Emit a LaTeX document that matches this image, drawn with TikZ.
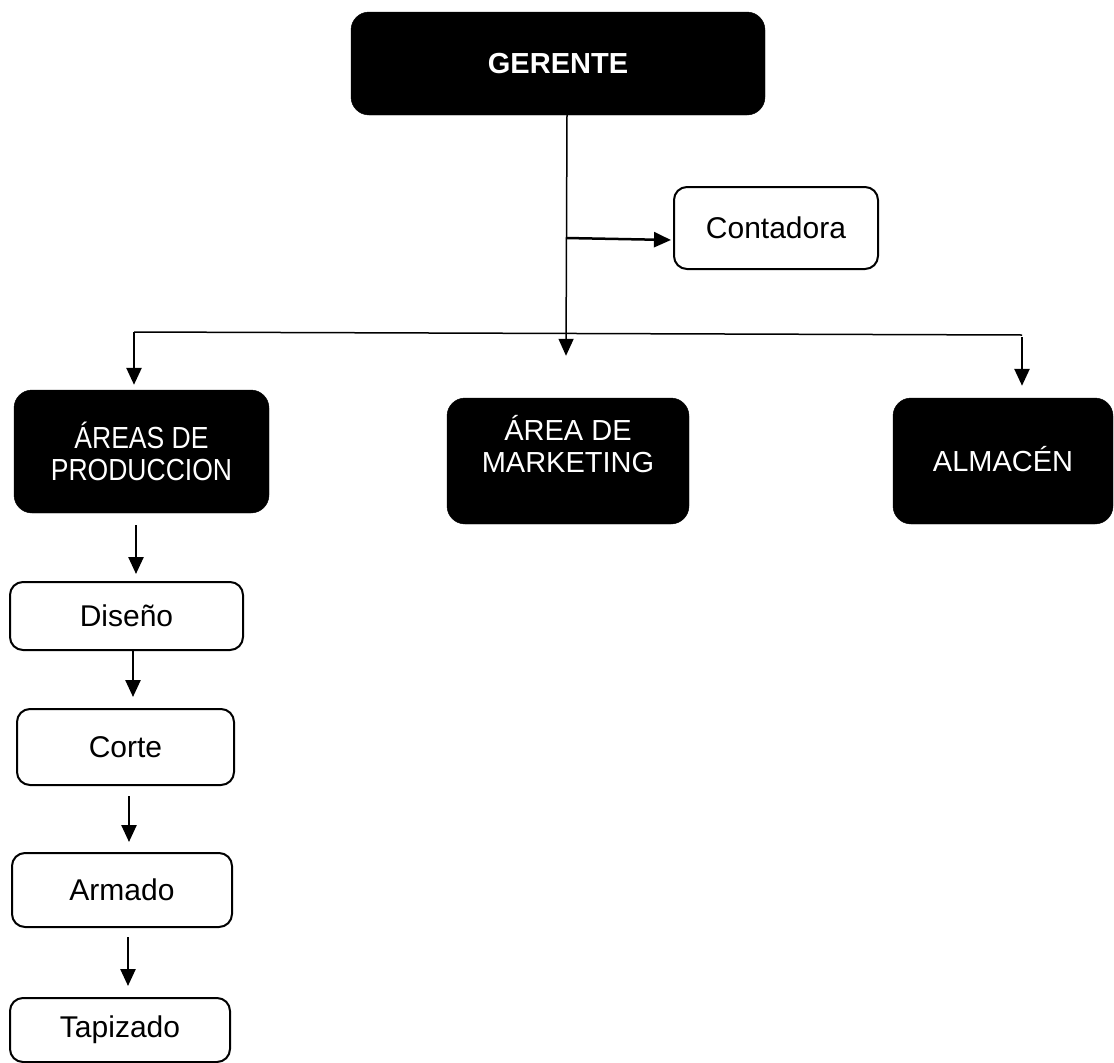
\documentclass[tikz,border=0pt]{standalone}
\usepackage{fontspec}
\setmainfont{Liberation Sans}
\newfontfamily\narrowfont[FakeStretch=0.87]{Liberation Sans}
\usetikzlibrary{arrows.meta,positioning,calc}
\tikzstyle{bblock} = [draw, fill=black, rectangle, rounded corners=18pt,
    text=white, align=center]
\tikzstyle{wblock} = [draw, line width=2pt, rectangle, rounded corners=13pt,
    align=center, font=\fontsize{30}{34}\selectfont]
\tikzstyle{arr} = [->, line width=2.5pt]

\begin{document}
\begin{tikzpicture}[x=1pt,y=-1pt,>={Triangle[length=17pt,width=15pt]},
    font=\fontsize{29}{32}\selectfont, every node/.style={inner sep=0pt}]
    \useasboundingbox (0,0) rectangle (1114,1063);

    % top level
    \node (gerente) [bblock,minimum width=414pt,minimum height=103pt] at (558,63.5) {\bfseries GERENTE};
    \node (contadora) [wblock,minimum width=204pt,minimum height=82pt] at (776,228) {Contadora};

    % areas
    \node (prod) [bblock,minimum width=255pt,minimum height=123pt,font=\fontsize{30.5}{32}\narrowfont] at (141.5,451.5) {ÁREAS DE\\PRODUCCION};
    \node (mkt) [bblock,minimum width=242pt,minimum height=126pt] at (568,461) {};
    \node (mkt_text) [text=white,align=center] at ([yshift=17pt]mkt.center) {ÁREA DE\\MARKETING};
    \node (almacen) [bblock,minimum width=220pt,minimum height=126pt] at (1003,461) {};
    \node (almacen_text) [text=white] at ([yshift=2pt]almacen.center) {ALMACÉN};

    % production chain
    \node (disenio) [wblock,minimum width=233pt,minimum height=68pt] at (126.5,616) {Diseño};
    \node (corte) [wblock,minimum width=217pt,minimum height=76pt] at (125.5,747) {Corte};
    \node (armado) [wblock,minimum width=220pt,minimum height=74pt] at (122,890) {Armado};
    \node (tapizado) [wblock,minimum width=220pt,minimum height=64pt] at (120,1030) {Tapizado};

    \node (trunk_top) [coordinate] at (gerente.south -| 567,0) {};
    \node (trunk_mid) [coordinate] at (566,238) {};
    \node (bus_left) [coordinate] at (134,332) {};
    \node (bus_right) [coordinate] at (1022,335) {};

    \draw[line width=1.5pt,->] (trunk_top) -- ([yshift=42pt]mkt.north -| 566,0);
    \draw[arr] (trunk_mid) -- ([xshift=-2pt,yshift=-12pt]contadora.west);
    \draw[line width=1.5pt] (bus_left) -- (bus_right);
    \draw[arr] (bus_left) -- ([yshift=5pt]prod.north -| bus_left);
    \draw[arr] ([yshift=-2pt]bus_right) -- ([yshift=12pt]almacen.north -| bus_right);

    \draw[arr,shorten <=12pt,shorten >=7pt] (prod.south -| 136,0) -- (disenio.north -| 136,0);
    \draw[arr,shorten >=11pt] (disenio.south -| 133,0) -- (corte.north -| 133,0);
    \draw[arr,shorten <=10pt,shorten >=10pt] (corte.south -| 129,0) -- (armado.north -| 129,0);
    \draw[arr,shorten <=9pt,shorten >=11pt] (armado.south -| 128,0) -- (tapizado.north -| 128,0);
\end{tikzpicture}
\end{document}
